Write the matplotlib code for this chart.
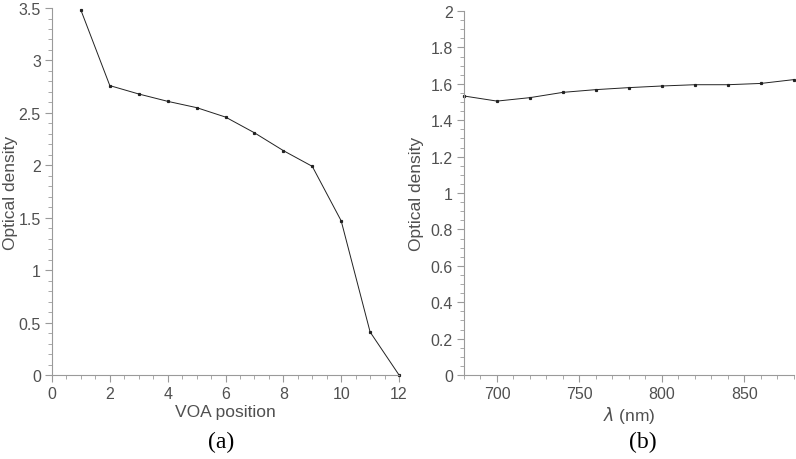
import matplotlib
matplotlib.use("Agg")
import matplotlib.pyplot as plt
from matplotlib.ticker import MultipleLocator, FuncFormatter

plt.rcParams['font.family'] = ['Liberation Sans', 'DejaVu Sans']

voa_pos = [1, 2, 3, 4, 5, 6, 7, 8, 9, 10, 11, 12]
od_voa = [3.48, 2.76, 2.68, 2.61, 2.55, 2.46, 2.31, 2.14, 1.99, 1.47, 0.41, 0.0]

wavelength = [680, 700, 720, 740, 760, 780, 800, 820, 840, 860, 880]
od_lambda = [1.533, 1.505, 1.524, 1.553, 1.568, 1.579, 1.588, 1.595, 1.595, 1.602, 1.623]

fig = plt.figure(figsize=(7.96, 4.60), dpi=100)
ax1 = fig.add_axes([0.0653, 0.1826, 0.436, 0.7978])
ax2 = fig.add_axes([0.5829, 0.1826, 0.4143, 0.7913])

tick_col = '#505050'
spine_col = '#9a9a9a'

def fmt(v, p):
    return ('%.2f' % v).rstrip('0').rstrip('.')

def style(ax):
    for s in ['top', 'right']:
        ax.spines[s].set_visible(False)
    for s in ['left', 'bottom']:
        ax.spines[s].set_color(spine_col)
        ax.spines[s].set_linewidth(0.8)
    ax.tick_params(which='major', direction='out', length=5, width=0.8, color=spine_col,
                   labelcolor=tick_col, labelsize=11.5, pad=3)
    ax.tick_params(which='minor', direction='out', length=3, width=0.6, color=spine_col)
    ax.yaxis.set_major_formatter(FuncFormatter(fmt))
    ax.xaxis.set_major_formatter(FuncFormatter(fmt))

ax1.plot(voa_pos, od_voa, color='#222222', lw=0.7, marker='s', ms=1.3, clip_on=False)
ax1.set_xlim(0, 12)
ax1.set_ylim(0, 3.5)
ax1.xaxis.set_major_locator(MultipleLocator(2))
ax1.xaxis.set_minor_locator(MultipleLocator(0.5))
ax1.yaxis.set_major_locator(MultipleLocator(0.5))
ax1.yaxis.set_minor_locator(MultipleLocator(0.1))
style(ax1)
ax1.set_xlabel('VOA position', color=tick_col, fontsize=12.5, labelpad=2)
ax1.set_ylabel('Optical density', color=tick_col, fontsize=12.5)
ax1.yaxis.set_label_coords(-0.097, 0.5)

ax2.plot(wavelength, od_lambda, color='#222222', lw=0.7, marker='s', ms=1.3, clip_on=False)
ax2.set_xlim(680, 880)
ax2.set_ylim(0, 2)
ax2.xaxis.set_major_locator(MultipleLocator(50))
ax2.xaxis.set_minor_locator(MultipleLocator(10))
ax2.yaxis.set_major_locator(MultipleLocator(0.2))
ax2.yaxis.set_minor_locator(MultipleLocator(0.05))
style(ax2)
ax2.set_xlabel(r'$\lambda$ (nm)', color=tick_col, fontsize=12.5, labelpad=2)
ax2.set_ylabel('Optical density', color=tick_col, fontsize=12.5)
ax2.yaxis.set_label_coords(-0.121, 0.5)

fig.text(221 / 796, 1 - 442 / 460, '(a)', ha='center', va='center',
         fontsize=17, family='Liberation Serif', color='black')
fig.text(643 / 796, 1 - 442 / 460, '(b)', ha='center', va='center',
         fontsize=17, family='Liberation Serif', color='black')

fig.savefig('out.png', dpi=100)
